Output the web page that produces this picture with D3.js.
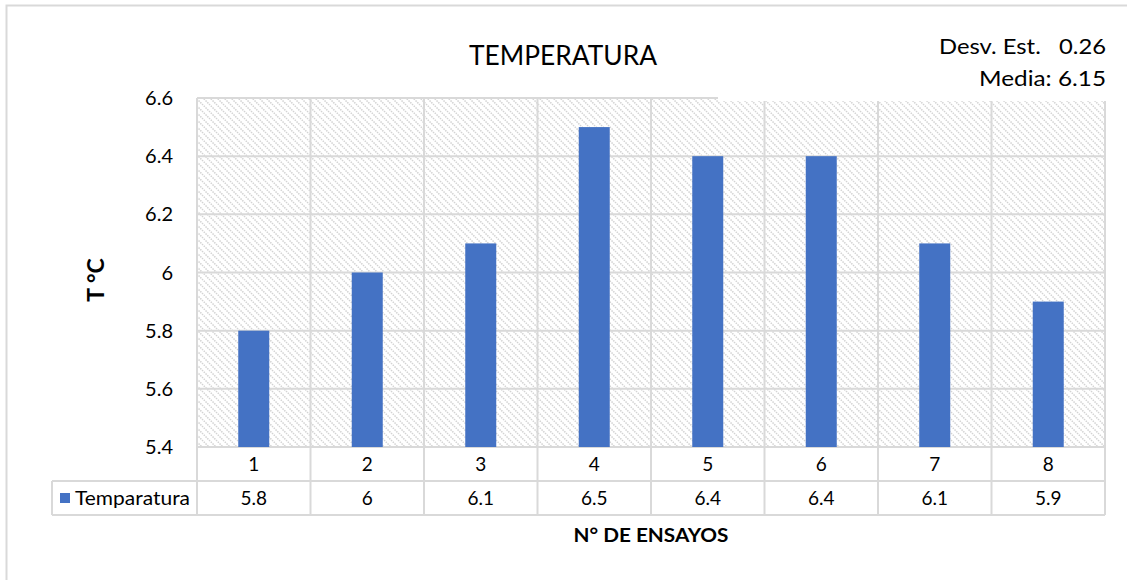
<!DOCTYPE html>
<html><head><meta charset="utf-8">
<script src="https://cdn.jsdelivr.net/npm/d3@7"></script>
<style>body{margin:0;background:#fff}svg{display:block}text{font-family:Lato,"Open Sans",sans-serif}</style>
</head><body>
<svg id="c" width="1127" height="580"></svg>
<script>
const categories = ["1","2","3","4","5","6","7","8"];
const values = [5.8, 6, 6.1, 6.5, 6.4, 6.4, 6.1, 5.9];
const valueLabels = ["5.8","6","6.1","6.5","6.4","6.4","6.1","5.9"];
const yTicks = [5.4, 5.6, 5.8, 6, 6.2, 6.4, 6.6];
const yTickLabels = ["5.4","5.6","5.8","6","6.2","6.4","6.6"];
const seriesName = "Temparatura";
const title = "TEMPERATURA";
const yTitle = "T °C";
const xTitle = "N° DE ENSAYOS";
const statLines = ["Desv. Est.   0.26", "Media: 6.15"];

const svg = d3.select("#c");
const L = 197, R = 1105, T = 98, B = 447;
const rowH = 34, legendX = 52;
const grid = "#d9d9d9", barColor = "#4472C4";

// outer border
svg.append("rect").attr("x",6.5).attr("y",5.5).attr("width",1130).attr("height",600)
  .attr("fill","#fff").attr("stroke",grid).attr("stroke-width",2);

const defs = svg.append("defs");
const pat = defs.append("pattern").attr("id","hatch").attr("patternUnits","userSpaceOnUse")
  .attr("width",7).attr("height",7);
pat.append("path").attr("d","M-1,-1 L8,8 M-1,6 L1,8 M6,-1 L8,1")
  .attr("stroke","#d3d3d3").attr("stroke-width",1.5).attr("stroke-dasharray","1.5,1");

const x = d3.scaleBand().domain(categories).range([L,R]).paddingInner(0).paddingOuter(0);
const y = d3.scaleLinear().domain([5.4,6.6]).range([B,T]);

// plot background hatch
svg.append("rect").attr("x",L).attr("y",T).attr("width",R-L).attr("height",B-T).attr("fill","url(#hatch)");

// horizontal gridlines
svg.append("g").selectAll("line").data(yTicks).join("line")
  .attr("x1",L).attr("x2",R).attr("y1",d=>y(d)).attr("y2",d=>y(d))
  .attr("stroke",grid).attr("stroke-width",2);

// vertical lines at band boundaries (through table)
const bounds = categories.map(c=>x(c)).concat([R]);
svg.append("g").selectAll("line").data(bounds).join("line")
  .attr("x1",d=>d).attr("x2",d=>d).attr("y1",T).attr("y2",B+2*rowH)
  .attr("stroke",grid).attr("stroke-width",2);

// bars
const bw = 31;
svg.append("g").selectAll("rect").data(values).join("rect")
  .attr("x",(d,i)=>x(categories[i])+x.bandwidth()/2-bw/2)
  .attr("width",bw)
  .attr("y",d=>y(d)).attr("height",d=>y(5.4)-y(d))
  .attr("fill",barColor);

// table horizontal lines
svg.append("line").attr("x1",L).attr("x2",R).attr("y1",B+rowH).attr("y2",B+rowH).attr("stroke",grid).attr("stroke-width",2);
svg.append("line").attr("x1",legendX).attr("x2",L).attr("y1",B+rowH).attr("y2",B+rowH).attr("stroke",grid).attr("stroke-width",2);
svg.append("line").attr("x1",legendX).attr("x2",R).attr("y1",B+2*rowH).attr("y2",B+2*rowH).attr("stroke",grid).attr("stroke-width",2);
svg.append("line").attr("x1",legendX).attr("x2",legendX).attr("y1",B+rowH).attr("y2",B+2*rowH).attr("stroke",grid).attr("stroke-width",2);

// white stats box covering top right
svg.append("rect").attr("x",718).attr("y",20).attr("width",395).attr("height",81).attr("fill","#fff");

// category labels
svg.append("g").selectAll("text").data(categories).join("text")
  .attr("x",d=>x(d)+x.bandwidth()/2).attr("y",B+rowH/2+7)
  .attr("text-anchor","middle").attr("font-size",19).attr("fill","#000").text(d=>d);
// values
svg.append("g").selectAll("text").data(valueLabels).join("text")
  .attr("x",(d,i)=>x(categories[i])+x.bandwidth()/2).attr("y",B+rowH*1.5+7)
  .attr("text-anchor","middle").attr("font-size",19).attr("fill","#000").text(d=>d);
// legend
svg.append("rect").attr("x",60).attr("y",B+rowH*1.5-5).attr("width",10).attr("height",10).attr("fill",barColor);
svg.append("text").attr("x",75).attr("y",B+rowH*1.5+7).attr("font-size",19)
  .attr("textLength",115).attr("lengthAdjust","spacingAndGlyphs").text(seriesName);

// y ticks labels
svg.append("g").selectAll("text").data(yTicks).join("text")
  .attr("x",173).attr("y",d=>y(d)+7).attr("text-anchor","end").attr("font-size",20)
  .text((d,i)=>yTickLabels[i]);

// titles
svg.append("text").attr("x",563).attr("y",65).attr("text-anchor","middle").attr("font-size",26)
  .attr("textLength",188).attr("lengthAdjust","spacingAndGlyphs").text(title);
svg.append("text").attr("transform","translate(104,280) rotate(-90)").attr("text-anchor","middle")
  .attr("font-size",23).attr("font-weight","bold").text(yTitle);
svg.append("text").attr("x",651).attr("y",542).attr("text-anchor","middle")
  .attr("font-size",19).attr("font-weight","bold")
  .attr("textLength",155).attr("lengthAdjust","spacingAndGlyphs").text(xTitle);

// stats
const statW = [167, 127];
svg.append("g").selectAll("text").data(statLines).join("text")
  .attr("x",1106).attr("y",(d,i)=>54+i*32).attr("text-anchor","end").attr("font-size",22)
  .attr("xml:space","preserve").style("white-space","pre")
  .attr("textLength",(d,i)=>statW[i]).attr("lengthAdjust","spacingAndGlyphs").text(d=>d);
</script>
</body></html>
